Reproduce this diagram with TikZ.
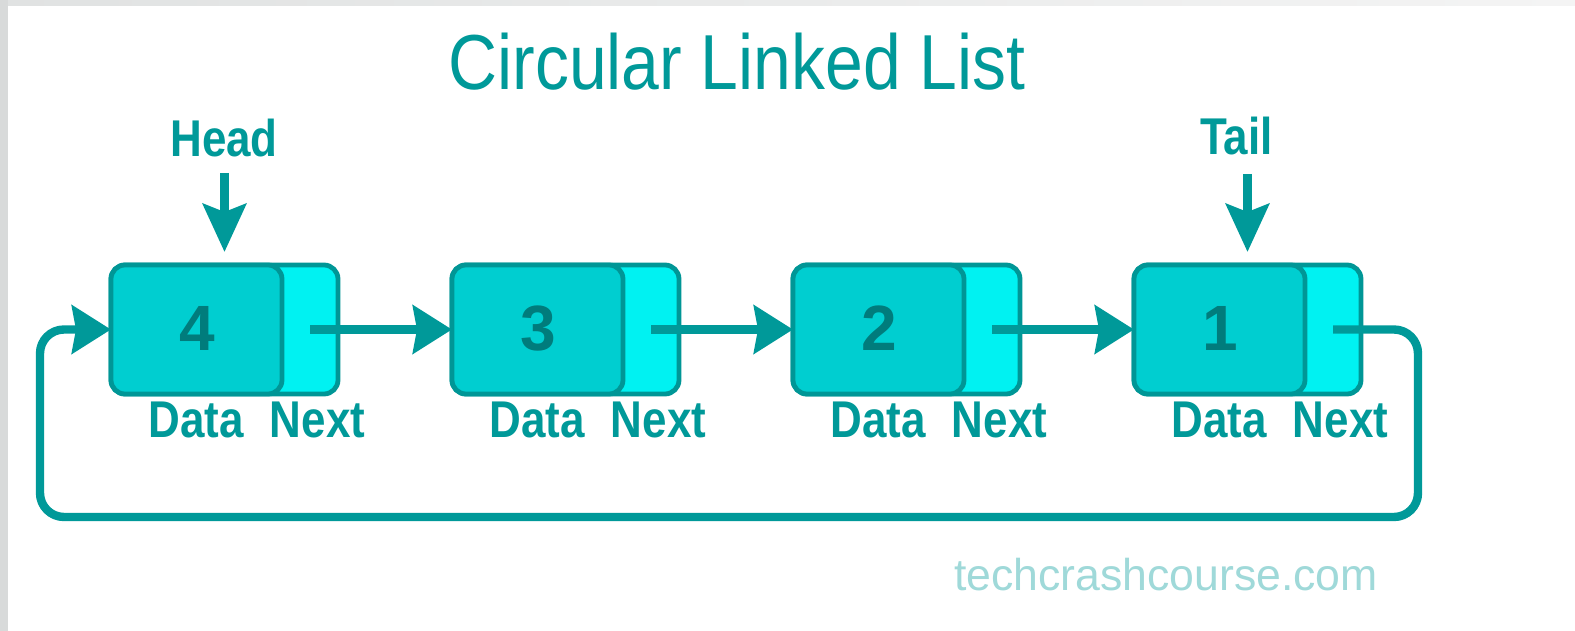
\documentclass[tikz,border=0pt]{standalone}
\usepackage{fontspec}
\setmainfont{Liberation Sans}
\newfontfamily\titlefont[FakeStretch=0.87]{Liberation Sans}
\newfontfamily\labelfont[FakeStretch=0.85]{Liberation Sans}
\usetikzlibrary{arrows.meta,calc}

\definecolor{linkteal}{HTML}{009999}
\definecolor{boxedge}{HTML}{009696}
\definecolor{datafill}{HTML}{00CED0}
\definecolor{nextfill}{HTML}{00F2F2}
\definecolor{digitcol}{HTML}{007C7C}
\definecolor{markcol}{HTML}{9FD9D9}
\definecolor{frametop}{HTML}{E0E2E2}
\definecolor{frameend}{HTML}{F4F4F4}
\definecolor{frameside}{HTML}{D8DADA}

\begin{document}
\begin{tikzpicture}[x=0.5pt,y=-0.5pt,
  listnode/.style={draw=boxedge, line width=2.4pt, rounded corners=7pt,
    fill=nextfill, minimum width=113.5pt, minimum height=64.5pt,
    inner sep=0pt, outer sep=0pt},
  datapart/.style={draw=boxedge, line width=2.4pt, rounded corners=7pt,
    fill=datafill, minimum width=85.5pt, minimum height=64.5pt,
    inner sep=0pt, outer sep=0pt},
  digit/.style={inner sep=0pt, anchor=base, text=digitcol,
    font=\bfseries\fontsize{32}{36}\selectfont},
  fieldlabel/.style={inner sep=0pt, anchor=base, text=linkteal,
    font=\labelfont\bfseries\fontsize{25.85}{30}\selectfont},
  link/.style={draw=linkteal, line width=4.2pt,
    -{Stealth[length=19.5pt,width=24pt,inset=2pt]}},
  pointer/.style={draw=linkteal, line width=4.5pt,
    -{Stealth[length=24pt,width=21.5pt,inset=4pt]}}]

% canvas and the grey frame edges
\fill[white] (0,0) rectangle (1575,631);
\useasboundingbox (0,0) rectangle (1575,631);
\shade[left color=frametop, right color=frameend] (0,0) rectangle (1575,6);
\fill[frameside] (0,0) rectangle (8,631);

% title
\node[anchor=base, inner sep=0pt, text=linkteal,
  font=\titlefont\fontsize{39}{44}\selectfont] (title) at (737,90)
  {Circular Linked List};

% list nodes: data part and next part, with field captions
\foreach \v [count=\i from 0] in {4,3,2,1}{
  \pgfmathsetmacro\L{109+341*\i}
  \node[listnode] (n\v) at (\L+115.5,329.5) {};
  \node[datapart] (d\v) at (\L+87.5,329.5) {};
  \node[digit] (v\v) at (\L+88,350) {\v};
  \node[fieldlabel] (data\v) at (\L+87,437) {Data};
  \node[fieldlabel] (next\v) at (\L+208.5,437) {Next};
  \coordinate (p\v) at ($(d\v.east)!0.5!(n\v.east)$);
}

% next pointers
\draw[link] (p4) -- (n3.west);
\draw[link] (p3) -- (n2.west);
\draw[link] (p2) -- (n1.west);

% tail links back to head
\draw[link, rounded corners=12pt] (p1) -| (1418,517) -| (40,329.5) -- (n4.west);

% head and tail markers
\node[fieldlabel] (head) at (224,156) {Head};
\node[fieldlabel] (tail) at (1236.5,155) {Tail};
\draw[pointer] ($(head.south -| n4.north)+(0,16)$) -- ($(n4.north)+(0,-13)$);
\draw[pointer] ($(tail.south -| n1.north)+(0,18)$) -- ($(n1.north)+(0,-13)$);

% site mark
\node[anchor=base, inner sep=0pt, text=markcol,
  font=\fontsize{22.3}{26}\selectfont] (site) at (1166,590)
  {techcrashcourse.com};
\end{tikzpicture}
\end{document}
